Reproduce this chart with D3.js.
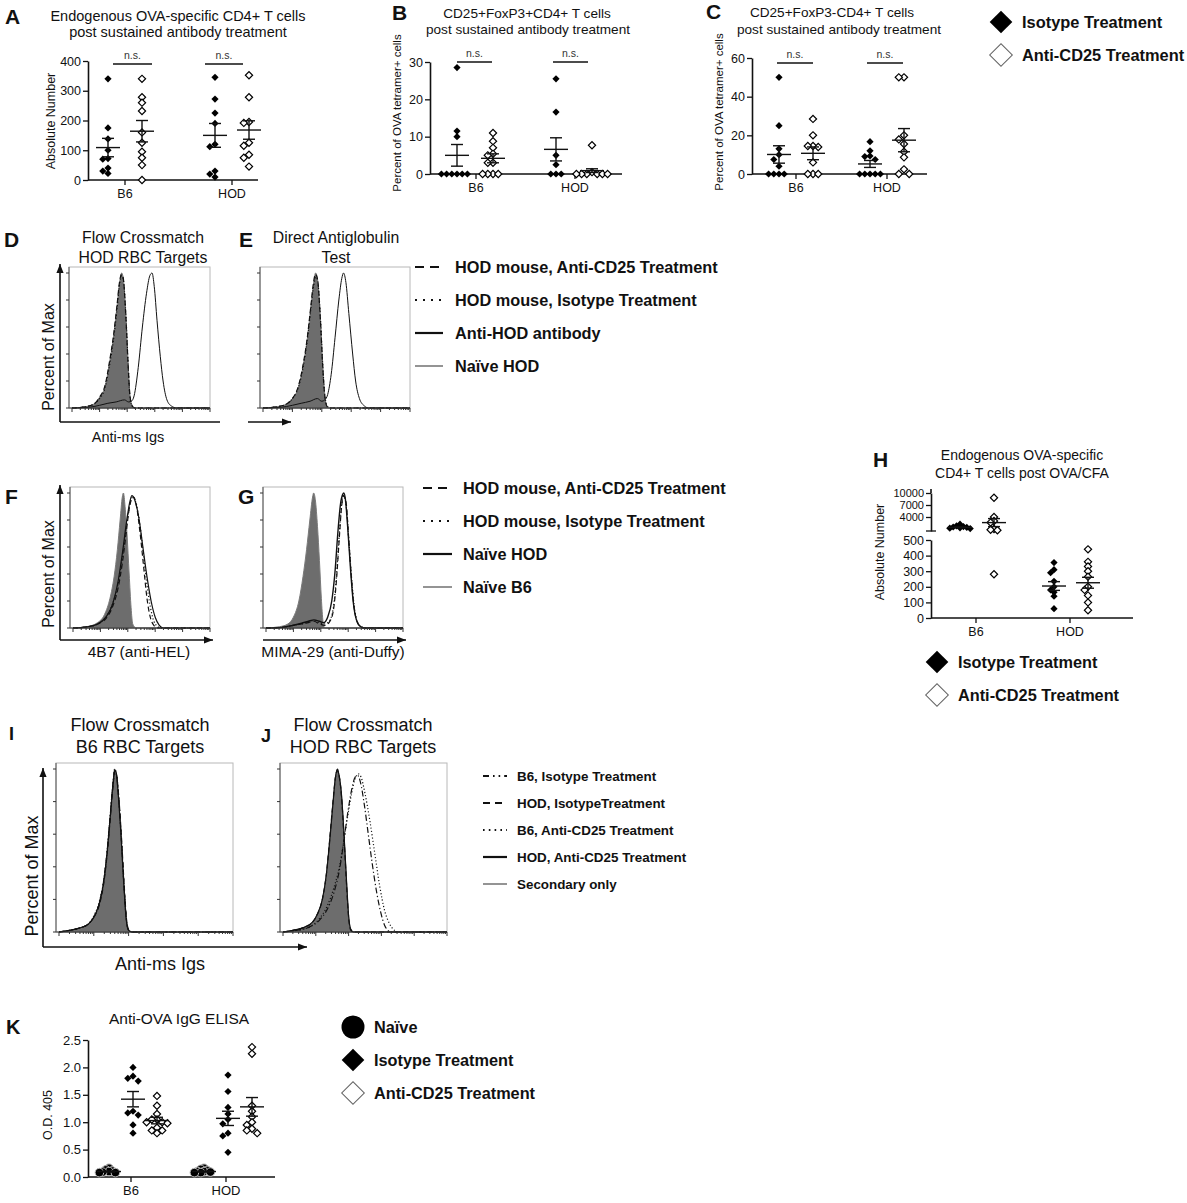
<!DOCTYPE html>
<html>
<head>
<meta charset="utf-8">
<script src="https://cdn.jsdelivr.net/npm/d3@7"></script>
<style>
  body { margin: 0; background: #fff; }
  svg { display: block; }
</style>
</head>
<body>
<script>
// ---------- dot plot data ----------
const groups = ["B6", "HOD"];
const treatments = ["Isotype", "Anti-CD25"];

// A: absolute number
const aIsoB6 = [340, 175, 138, 100, 72, 70, 40, 30, 22];
const aAntiB6 = [340, 278, 260, 232, 160, 125, 95, 75, 50, 0];
const aIsoHOD = [345, 272, 225, 190, 120, 112, 30, 20, 10];
const aAntiHOD = [352, 278, 195, 192, 125, 115, 85, 75, 45];
const aMean = [109, 164, 150, 168];
const aSem = [31, 36, 40, 31];

// B: % OVA tetramer+, CD25+FoxP3+
const bIsoB6 = [28.5, 11.5, 10, 0, 0, 0, 0, 0, 0];
const bAntiB6 = [11, 8.8, 7, 5.4, 5, 3, 3, 0, 0, 0, 0];
const bIsoHOD = [25.5, 16.6, 5, 2.5, 0, 0, 0];
const bAntiHOD = [7.7, 0.5, 0, 0, 0, 0, 0, 0];
const bMean = [5, 4.2, 6.6, 0.9];
const bSem = [2.9, 1.2, 3.1, 0.5];

// C: % OVA tetramer+, CD25+FoxP3-
const cIsoB6 = [50, 25, 13, 10, 7.5, 4, 0, 0, 0, 0];
const cAntiB6 = [28.5, 20, 14.5, 14.5, 14, 6, 0, 0, 0];
const cIsoHOD = [16.7, 12, 9.3, 9, 7.5, 0, 0, 0, 0, 0];
const cAntiHOD = [50, 50, 20, 17.9, 15.5, 11.5, 8.6, 2.4, 0, 0];
const cMean = [10.1, 10.7, 5.2, 17.5];
const cSem = [4.5, 3.3, 1.8, 6];

// H: absolute number post OVA/CFA (broken axis)
const hIsoB6 = [2200, 1800, 1600, 1500, 1400, 1300, 1200, 1100];
const hAntiB6 = [8800, 4000, 3000, 2600, 1000, 800, 700, 280];
const hIsoHOD = [355, 310, 290, 235, 200, 180, 165, 140, 60];
const hAntiHOD = [440, 360, 330, 300, 265, 200, 180, 145, 100, 50];
const hMean = [1400, 2600, 205, 226];
const hSem = [100, 1000, 28, 35];

// K: anti-OVA IgG ELISA
const kNaiveB6 = [0.16, 0.13, 0.11, 0.1, 0.09, 0.08, 0.08];
const kIsoB6 = [2.0, 1.84, 1.8, 1.75, 1.2, 1.17, 1.13, 0.95, 0.8];
const kAntiB6 = [1.48, 1.3, 1.15, 1.05, 1.05, 1.0, 1.0, 0.98, 0.9, 0.85, 0.85, 0.8];
const kNaiveHOD = [0.16, 0.14, 0.12, 0.1, 0.1, 0.09, 0.08, 0.08];
const kIsoHOD = [1.86, 1.56, 1.27, 1.15, 1.05, 0.97, 0.8, 0.75, 0.45];
const kAntiHOD = [2.37, 2.25, 1.3, 1.2, 1.1, 1.0, 0.95, 0.88, 0.85, 0.8];
const kMean = [0.1, 1.42, 1.03, 0.1, 1.07, 1.28];
const kSem = [0.01, 0.14, 0.06, 0.01, 0.13, 0.17];

// ---------- histogram data: [log decade, % of max] ----------
const dNaiveHOD = [[0,0],[0.5,1],[0.8,3],[1.0,8],[1.2,16],[1.38,36],[1.5,52],[1.63,75],[1.72,92],[1.8,100],[1.85,97],[1.95,70],[2.03,35],[2.1,10],[2.15,3],[2.25,0],[5,0]];
const dAntiCD25 = [[0,0],[0.5,1],[0.8,3],[1.0,8],[1.2,17],[1.38,37],[1.5,53],[1.63,76],[1.72,93],[1.79,99],[1.85,97],[1.95,68],[2.03,33],[2.1,9],[2.2,1],[2.3,0],[5,0]];
const dIsotype = [[0,0],[0.5,1],[0.8,3],[1.0,7],[1.2,15],[1.38,34],[1.5,50],[1.63,73],[1.72,91],[1.8,98],[1.86,95],[1.96,66],[2.04,30],[2.1,8],[2.2,1],[2.3,0],[5,0]];
const dAntiHOD = [[0,0],[0.6,0.5],[1.0,2],[1.3,3.5],[1.6,4.5],[1.9,6],[2.05,4.5],[2.15,5],[2.25,9],[2.4,30],[2.55,60],[2.7,85],[2.82,98],[2.9,100],[2.98,90],[3.08,65],[3.2,38],[3.3,20],[3.44,6],[3.6,1.5],[3.8,0],[5,0]];

const eNaiveHOD = [[0,0],[0.5,1],[0.8,3],[1.0,7],[1.2,15],[1.38,33],[1.5,50],[1.62,73],[1.72,92],[1.79,100],[1.85,96],[1.95,68],[2.03,33],[2.1,10],[2.16,2],[2.25,0],[5,0]];
const eAntiCD25 = [[0,0],[0.5,1],[0.8,3],[1.0,7],[1.2,16],[1.38,34],[1.5,51],[1.62,74],[1.72,93],[1.78,99],[1.85,96],[1.95,66],[2.03,31],[2.1,9],[2.18,1],[2.28,0],[5,0]];
const eIsotype = [[0,0],[0.5,1],[0.8,3],[1.0,7],[1.2,15],[1.38,32],[1.5,49],[1.62,72],[1.72,90],[1.8,97],[1.86,94],[1.96,64],[2.04,29],[2.11,8],[2.2,1],[2.3,0],[5,0]];
const eAntiHOD = [[0,0],[0.6,0.5],[1.0,2],[1.3,3.5],[1.6,5],[1.85,7],[2.0,5],[2.1,6],[2.2,10],[2.32,25],[2.45,52],[2.58,80],[2.68,96],[2.74,100],[2.82,93],[2.92,70],[3.05,40],[3.15,20],[3.28,7],[3.45,1.5],[3.6,0],[5,0]];

const fNaiveB6 = [[0,0],[0.5,1],[0.9,4],[1.15,10],[1.35,22],[1.5,38],[1.62,58],[1.72,80],[1.8,97],[1.84,100],[1.9,90],[1.97,70],[2.05,40],[2.12,15],[2.18,3],[2.3,0],[5,0]];
const fNaiveHOD = [[0,0],[0.5,0.8],[0.9,3],[1.2,8],[1.45,18],[1.65,35],[1.8,55],[1.95,78],[2.08,94],[2.15,98],[2.25,95],[2.4,82],[2.55,60],[2.7,38],[2.85,20],[3.0,8],[3.15,2],[3.3,0],[5,0]];
const fAntiCD25 = [[0,0],[0.5,0.8],[0.9,3],[1.2,7],[1.45,16],[1.65,30],[1.8,48],[1.95,72],[2.05,88],[2.15,96],[2.22,97],[2.32,90],[2.45,70],[2.58,45],[2.7,22],[2.82,8],[2.95,2],[3.1,0],[5,0]];
const fIsotype = [[0,0],[0.5,0.8],[0.9,3],[1.2,8],[1.45,18],[1.65,33],[1.8,52],[1.95,75],[2.08,92],[2.18,97],[2.28,94],[2.42,80],[2.55,58],[2.68,35],[2.82,16],[2.95,5],[3.1,1],[3.2,0],[5,0]];

const gNaiveB6 = [[0,0],[0.5,1],[0.8,3],[1.0,8],[1.2,20],[1.35,38],[1.48,58],[1.6,80],[1.7,97],[1.74,100],[1.8,95],[1.88,75],[1.95,50],[2.02,22],[2.08,5],[2.15,0],[5,0]];
const gNaiveHOD = [[0,0],[0.6,0.5],[1.0,2],[1.3,3.5],[1.55,5],[1.75,6],[1.95,5],[2.1,4],[2.25,8],[2.4,20],[2.52,42],[2.62,70],[2.72,92],[2.8,99],[2.84,100],[2.9,95],[2.98,75],[3.08,45],[3.18,20],[3.3,6],[3.45,1],[3.6,0],[5,0]];
const gAntiCD25 = [[0,0],[0.6,0.5],[1.0,2],[1.3,3],[1.55,4],[1.75,5],[1.95,3],[2.15,2],[2.3,4],[2.45,12],[2.57,35],[2.67,65],[2.76,90],[2.83,98],[2.87,97],[2.93,92],[3.0,72],[3.1,42],[3.2,18],[3.32,5],[3.45,1],[3.6,0],[5,0]];
const gIsotype = [[0,0],[0.6,0.5],[1.0,2],[1.3,3],[1.55,4.5],[1.75,5.5],[1.95,4],[2.15,3],[2.3,5],[2.45,14],[2.57,38],[2.67,68],[2.76,91],[2.83,98],[2.88,96],[2.94,88],[3.02,66],[3.12,38],[3.22,16],[3.34,4],[3.48,1],[3.6,0],[5,0]];

const iSecondary = [[0,0],[0.3,1],[0.6,2.5],[0.85,5],[1.0,9],[1.15,17],[1.28,30],[1.38,48],[1.47,70],[1.55,90],[1.6,100],[1.64,98],[1.7,85],[1.78,60],[1.86,30],[1.93,8],[2.0,1],[2.1,0],[5,0]];
const iB6Iso = [[0,0],[0.3,1],[0.6,2.5],[0.85,5],[1.0,9],[1.15,17],[1.28,31],[1.38,49],[1.47,71],[1.55,91],[1.6,99],[1.65,97],[1.71,84],[1.79,58],[1.87,28],[1.94,7],[2.0,1],[2.1,0],[5,0]];
const iHODIso = [[0,0],[0.3,1],[0.6,2.5],[0.85,5],[1.0,9],[1.15,16],[1.28,29],[1.38,47],[1.47,69],[1.55,89],[1.61,99],[1.65,97],[1.71,85],[1.79,60],[1.87,30],[1.94,8],[2.01,1],[2.1,0],[5,0]];
const iB6Anti = [[0,0],[0.3,1],[0.6,2.5],[0.85,5],[1.0,10],[1.15,18],[1.28,31],[1.38,49],[1.47,71],[1.55,91],[1.6,100],[1.64,98],[1.7,86],[1.78,61],[1.86,31],[1.93,9],[2.0,1],[2.1,0],[5,0]];
const iHODAnti = [[0,0],[0.3,1],[0.6,2.5],[0.85,5],[1.0,9],[1.15,17],[1.28,30],[1.38,48],[1.47,70],[1.55,90],[1.6,99],[1.64,98],[1.7,85],[1.78,60],[1.86,30],[1.93,8],[2.0,1],[2.1,0],[5,0]];

const jSecondary = [[0,0],[0.3,1],[0.6,2.5],[0.9,6],[1.05,11],[1.2,20],[1.32,35],[1.42,55],[1.52,78],[1.6,95],[1.66,100],[1.7,97],[1.78,85],[1.86,60],[1.94,30],[2.0,10],[2.06,2],[2.15,0],[5,0]];
const jB6Iso = [[0,0],[0.4,1],[0.8,3],[1.1,7],[1.35,14],[1.55,24],[1.72,38],[1.85,55],[1.98,74],[2.1,88],[2.2,95],[2.28,96],[2.36,92],[2.48,78],[2.6,60],[2.72,42],[2.85,25],[2.98,12],[3.1,4],[3.2,1],[3.3,0],[5,0]];
const jHODIso = [[0,0],[0.3,1],[0.6,2.5],[0.9,6],[1.05,11],[1.2,20],[1.32,35],[1.42,56],[1.52,79],[1.6,95],[1.65,99],[1.7,97],[1.78,84],[1.86,58],[1.94,28],[2.0,9],[2.07,1],[2.15,0],[5,0]];
const jB6Anti = [[0,0],[0.4,1],[0.8,3],[1.1,8],[1.35,16],[1.55,27],[1.72,40],[1.85,55],[1.98,72],[2.1,86],[2.2,94],[2.3,97],[2.38,95],[2.5,85],[2.65,68],[2.8,48],[2.95,28],[3.1,13],[3.25,5],[3.4,1],[3.5,0],[5,0]];
const jHODAnti = [[0,0],[0.3,1],[0.6,2.5],[0.9,6],[1.05,11],[1.2,20],[1.32,35],[1.42,55],[1.52,78],[1.6,95],[1.66,100],[1.7,97],[1.78,85],[1.86,60],[1.94,30],[2.0,10],[2.06,2],[2.15,0],[5,0]];

// ---------- drawing ----------
const svg = d3.select("body").append("svg")
  .attr("width", 1187).attr("height", 1203)
  .attr("font-family", "'Liberation Sans', Arial, Helvetica, sans-serif");

const ink = "#111";

function text(x, y, s, size, opts = {}) {
  const t = svg.append("text")
    .attr("x", x).attr("y", y)
    .attr("font-size", size)
    .attr("text-anchor", opts.anchor || "middle")
    .attr("fill", opts.fill || ink)
    .text(s);
  if (opts.bold) t.attr("font-weight", "bold");
  if (opts.rotate) t.attr("transform", `rotate(-90,${x},${y})`);
  return t;
}

const diamondPath = d3.symbol(d3.symbolSquare, 26)();
const circlePath = d3.symbol(d3.symbolCircle, 58)();

// spread points that would overlap sideways, GraphPad style
function dodge(ys, gap) {
  const placed = [];
  return ys.map(y => {
    for (const k of [0, -1, 1, -2, 2, -3, 3, -4, 4, -5, 5]) {
      const x = k * gap;
      if (placed.every(p => Math.hypot(p[0] - x, p[1] - y) >= gap * 0.98)) {
        placed.push([x, y]);
        return x;
      }
    }
    return 0;
  });
}

function styleAxis(sel, size = 12.5) {
  sel.select(".domain").attr("stroke", ink).attr("stroke-width", 1.6);
  sel.selectAll(".tick line").attr("stroke", ink).attr("stroke-width", 1.3);
  sel.selectAll(".tick text").attr("font-size", size).attr("fill", ink)
    .attr("font-family", "'Liberation Sans', Arial, sans-serif");
}

function dotPanel(o) {
  const g = svg.append("g");
  const gx = d3.scalePoint().domain(groups).range(o.centers);
  const sx = d3.scalePoint().domain(o.subs).range(o.offsets);
  const fs = o.fontSize || 12.5;

  if (o.ticks) {
    const ax = d3.axisLeft(o.y).tickValues(o.ticks).tickSize(5).tickSizeOuter(0).tickPadding(2);
    if (o.format) ax.tickFormat(d3.format(o.format));
    g.append("g").attr("transform", `translate(${o.x0},0)`).call(ax).call(styleAxis, fs);
  }

  // x axis
  g.append("line").attr("x1", o.x0).attr("x2", o.x1)
    .attr("y1", o.base).attr("y2", o.base)
    .attr("stroke", ink).attr("stroke-width", 1.6);
  groups.forEach(k => {
    g.append("line").attr("x1", gx(k)).attr("x2", gx(k))
      .attr("y1", o.base).attr("y2", o.base + 5)
      .attr("stroke", ink).attr("stroke-width", 1.3);
    g.append("text").attr("x", gx(k)).attr("y", o.base + 18)
      .attr("text-anchor", "middle").attr("font-size", fs).attr("fill", ink).text(k);
  });

  o.series.forEach(s => {
    const cx = gx(s.group) + sx(s.sub);
    const ys = s.values.map(v => o.y(v));
    const dxs = dodge(ys, s.shape === "circle" ? 3.2 : (o.gap || 5.2));
    g.selectAll(null).data(s.values).join("path")
      .attr("d", s.shape === "circle" ? circlePath : diamondPath)
      .attr("transform", (d, i) => `translate(${cx + dxs[i]},${ys[i]})` + (s.shape === "circle" ? "" : " rotate(45)"))
      .attr("fill", s.open ? "#fff" : "#000")
      .attr("stroke", s.shape === "circle" ? "#bbb" : "#000")
      .attr("stroke-width", s.open ? 1.2 : (s.shape === "circle" ? 1 : 0));

    const m = o.y(s.mean), hi = o.y(s.mean + s.sem), lo = o.y(s.mean - s.sem);
    const line = (x1, x2, y1, y2) => g.append("line")
      .attr("x1", x1).attr("x2", x2).attr("y1", y1).attr("y2", y2)
      .attr("stroke", ink).attr("stroke-width", 1.4);
    line(cx - 12, cx + 12, m, m);
    line(cx, cx, hi, lo);
    line(cx - 6, cx + 6, hi, hi);
    line(cx - 6, cx + 6, lo, lo);
  });

  (o.ns || []).forEach(b => {
    g.append("line").attr("x1", b[0]).attr("x2", b[1]).attr("y1", b[2]).attr("y2", b[2])
      .attr("stroke", ink).attr("stroke-width", 1.6);
    g.append("text").attr("x", (b[0] + b[1]) / 2).attr("y", b[2] - 5)
      .attr("text-anchor", "middle").attr("font-size", 10.5).attr("fill", "#333").text("n.s.");
  });
}

function seriesOf(subs, lists, means, sems, shapes, opens) {
  const out = [];
  groups.forEach((grp, gi) => {
    subs.forEach((sub, si) => {
      const idx = gi * subs.length + si;
      out.push({ group: grp, sub, values: lists[idx], mean: means[idx], sem: sems[idx],
        shape: shapes[si], open: opens[si] });
    });
  });
  return out;
}

// ---- A ----
text(5, 24, "A", 21, { anchor: "start", bold: true });
text(178, 21, "Endogenous OVA-specific CD4+ T cells", 14.5);
text(178, 37, "post sustained antibody treatment", 14.5);
text(55, 121, "Absolute Number", 12.5, { rotate: true });
dotPanel({
  x0: 88, x1: 258, base: 180,
  y: d3.scaleLinear([0, 400], [180, 61]), ticks: [0, 100, 200, 300, 400],
  centers: [125, 232], subs: treatments, offsets: [-17, 17],
  series: seriesOf(treatments, [aIsoB6, aAntiB6, aIsoHOD, aAntiHOD], aMean, aSem,
    ["diamond", "diamond"], [false, true]),
  ns: [[113, 152, 64], [205, 243, 64]]
});

// ---- B ----
text(392, 20, "B", 21, { anchor: "start", bold: true });
text(527, 18, "CD25+FoxP3+CD4+ T cells", 13.6);
text(528, 34, "post sustained antibody treatment", 13.6);
text(401, 113, "Percent of OVA tetramer+ cells", 11.5, { rotate: true });
dotPanel({
  x0: 430, x1: 622, base: 174,
  y: d3.scaleLinear([0, 30], [174, 62]), ticks: [0, 10, 20, 30],
  centers: [476, 575], subs: treatments, offsets: [-19, 17],
  series: seriesOf(treatments, [bIsoB6, bAntiB6, bIsoHOD, bAntiHOD], bMean, bSem,
    ["diamond", "diamond"], [false, true]),
  ns: [[457, 492, 62], [553, 588, 62]]
});

// ---- C ----
text(706, 19, "C", 21, { anchor: "start", bold: true });
text(832, 17, "CD25+FoxP3-CD4+ T cells", 13.6);
text(839, 34, "post sustained antibody treatment", 13.6);
text(723, 112, "Percent of OVA tetramer+ cells", 11.5, { rotate: true });
dotPanel({
  x0: 752, x1: 927, base: 174,
  y: d3.scaleLinear([0, 60], [174, 58]), ticks: [0, 20, 40, 60],
  centers: [796, 887], subs: treatments, offsets: [-17, 17],
  series: seriesOf(treatments, [cIsoB6, cAntiB6, cIsoHOD, cAntiHOD], cMean, cSem,
    ["diamond", "diamond"], [false, true]),
  ns: [[777, 813, 63], [867, 903, 63]]
});

// legend helper for dot plots
function symLegend(x, y, items, size) {
  items.forEach((it, i) => {
    const cy = y + i * 33;
    const p = it.shape === "circle"
      ? d3.symbol(d3.symbolCircle, Math.PI * 11.5 * 11.5)()
      : d3.symbol(d3.symbolSquare, 16 * 16)();
    svg.append("path").attr("d", p)
      .attr("transform", `translate(${x},${cy})` + (it.shape === "circle" ? "" : " rotate(45)"))
      .attr("fill", it.open ? "#fff" : "#000").attr("stroke", it.open ? "#666" : "#000")
      .attr("stroke-width", it.open ? 1 : 0);
    text(x + 21, cy + 6, it.label, size, { anchor: "start", bold: true });
  });
}
const treatLegend = [
  { label: "Isotype Treatment", shape: "diamond", open: false },
  { label: "Anti-CD25 Treatment", shape: "diamond", open: true }
];
symLegend(1001, 22, treatLegend, 16.4);

// ---------- histograms ----------
const dash = { solid: null, dashed: "5,3", dotted: "1.1,2.2", dashdot: "6,2.5,1.2,2.5" };

function histPanel(o) {
  const [bx, by, bw, bh] = o.box;
  const x = d3.scaleLinear([0, 5], [bx + 3, bx + bw]);
  const y = d3.scaleLinear([0, 100], [by + bh, by + 6]);
  const g = svg.append("g");
  g.append("rect").attr("x", bx).attr("y", by).attr("width", bw).attr("height", bh)
    .attr("fill", "#fff").attr("stroke", "#b8b8b8").attr("stroke-width", 1);

  const area = d3.area().x(d => x(d[0])).y0(y(0)).y1(d => y(d[1])).curve(d3.curveMonotoneX);
  const line = d3.line().x(d => x(d[0])).y(d => y(d[1])).curve(d3.curveMonotoneX);
  g.append("path").datum(o.fill).attr("d", area)
    .attr("fill", "#6d6d6d").attr("stroke", "#7a7a7a").attr("stroke-width", 1);
  o.curves.forEach(c => {
    g.append("path").datum(c.pts).attr("d", line)
      .attr("fill", "none").attr("stroke", ink)
      .attr("stroke-width", c.w || 1.2)
      .attr("stroke-dasharray", dash[c.style]);
  });

  // axis lines with log-decade ticks
  g.append("line").attr("x1", bx).attr("x2", bx + bw).attr("y1", by + bh).attr("y2", by + bh)
    .attr("stroke", "#333").attr("stroke-width", 1.2);
  g.append("line").attr("x1", bx).attr("x2", bx).attr("y1", by).attr("y2", by + bh)
    .attr("stroke", "#555").attr("stroke-width", 1);
  const xt = [];
  d3.range(0, 5).forEach(dec => d3.range(1, 10).forEach(k => xt.push([dec + Math.log10(k), k === 1])));
  xt.push([5, true]);
  g.selectAll(null).data(xt).join("line")
    .attr("x1", d => x(d[0])).attr("x2", d => x(d[0]))
    .attr("y1", by + bh).attr("y2", d => by + bh + (d[1] ? 4 : 2))
    .attr("stroke", "#333").attr("stroke-width", 1);
  g.selectAll(null).data(d3.range(0, 101, 20)).join("line")
    .attr("x1", bx - 3).attr("x2", bx)
    .attr("y1", d => y(d)).attr("y2", d => y(d))
    .attr("stroke", "#333").attr("stroke-width", 1);
}

function arrow(x1, y1, x2, y2, head) {
  svg.append("line").attr("x1", x1).attr("y1", y1).attr("x2", x2).attr("y2", y2)
    .attr("stroke", ink).attr("stroke-width", 1.6);
  if (!head) return;
  const a = Math.atan2(y2 - y1, x2 - x1), L = 9, w = 3.6;
  const p = [
    [x2, y2],
    [x2 - L * Math.cos(a) + w * Math.sin(a), y2 - L * Math.sin(a) - w * Math.cos(a)],
    [x2 - L * Math.cos(a) - w * Math.sin(a), y2 - L * Math.sin(a) + w * Math.cos(a)]
  ];
  svg.append("path").attr("d", d3.line()(p) + "Z").attr("fill", ink);
}

function lineLegend(x1, x2, tx, rows, size) {
  rows.forEach(r => {
    svg.append("line").attr("x1", x1).attr("x2", x2).attr("y1", r.y).attr("y2", r.y)
      .attr("stroke", r.gray ? "#888" : ink)
      .attr("stroke-width", r.gray ? 1.8 : 2.2)
      .attr("stroke-dasharray", r.dash);
    text(tx, r.y + size * 0.36, r.label, size, { anchor: "start", bold: true });
  });
}

// ---- D / E ----
text(4, 247, "D", 21, { anchor: "start", bold: true });
text(143, 243, "Flow Crossmatch", 15.8);
text(143, 263, "HOD RBC Targets", 15.8);
text(239, 247, "E", 21, { anchor: "start", bold: true });
text(336, 243, "Direct Antiglobulin", 15.8);
text(336, 263, "Test", 15.8);
text(54, 357, "Percent of Max", 16, { rotate: true });
text(128, 442, "Anti-ms Igs", 14.5);
arrow(60, 422, 60, 264, true);
arrow(60, 422, 220, 422, false);
arrow(248, 422, 291, 422, true);

histPanel({ box: [69, 267, 141, 141], fill: dNaiveHOD, curves: [
  { pts: dIsotype, style: "dotted" }, { pts: dAntiCD25, style: "dashed" },
  { pts: dAntiHOD, style: "solid", w: 1 }] });
histPanel({ box: [260, 267, 150, 141], fill: eNaiveHOD, curves: [
  { pts: eIsotype, style: "dotted" }, { pts: eAntiCD25, style: "dashed" },
  { pts: eAntiHOD, style: "solid", w: 1 }] });

lineLegend(415, 443, 455, [
  { y: 267, dash: "9,6", label: "HOD mouse, Anti-CD25 Treatment" },
  { y: 300, dash: "2,6", label: "HOD mouse, Isotype Treatment" },
  { y: 333, dash: null, label: "Anti-HOD antibody" },
  { y: 366, dash: null, gray: true, label: "Naïve HOD" }
], 16.3);

// ---- F / G ----
text(5, 504, "F", 21, { anchor: "start", bold: true });
text(238, 504, "G", 21, { anchor: "start", bold: true });
text(54, 574, "Percent of Max", 16, { rotate: true });
text(139, 657, "4B7 (anti-HEL)", 15.5);
text(333, 657, "MIMA-29 (anti-Duffy)", 15.5);
arrow(60, 640, 60, 485, true);
arrow(60, 640, 213, 640, true);
arrow(263, 640, 406, 640, true);

histPanel({ box: [70, 487, 140, 141], fill: fNaiveB6, curves: [
  { pts: fIsotype, style: "dotted" }, { pts: fAntiCD25, style: "dashed" },
  { pts: fNaiveHOD, style: "solid" }] });
histPanel({ box: [263, 487, 140, 141], fill: gNaiveB6, curves: [
  { pts: gIsotype, style: "dotted" }, { pts: gAntiCD25, style: "dashed" },
  { pts: gNaiveHOD, style: "solid", w: 1.4 }] });

lineLegend(423, 452, 463, [
  { y: 488, dash: "9,6", label: "HOD mouse, Anti-CD25 Treatment" },
  { y: 521, dash: "2,6", label: "HOD mouse, Isotype Treatment" },
  { y: 554, dash: null, label: "Naïve HOD" },
  { y: 587, dash: null, gray: true, label: "Naïve B6" }
], 16.3);

// ---- H ----
text(873, 467, "H", 21, { anchor: "start", bold: true });
text(1022, 460, "Endogenous OVA-specific", 14);
text(1022, 478, "CD4+ T cells post OVA/CFA", 14);
text(884, 552, "Absolute Number", 12.5, { rotate: true });
const hLow = d3.scaleLinear([0, 500], [618, 540]);
const hHigh = d3.scaleLinear([500, 10000], [531, 493]);
const hY = v => (v <= 500 ? hLow(v) : hHigh(v));
svg.append("g").attr("transform", "translate(931,0)")
  .call(d3.axisLeft(hLow).tickValues([0, 100, 200, 300, 400, 500]).tickSize(5).tickSizeOuter(0).tickPadding(2))
  .call(styleAxis, 12.5);
svg.append("g").attr("transform", "translate(931,0)")
  .call(d3.axisLeft(hHigh).tickValues([4000, 7000, 10000]).tickFormat(d3.format("d"))
    .tickSize(5).tickSizeOuter(0).tickPadding(2))
  .call(styleAxis, 11);
svg.append("line").attr("x1", 931).attr("x2", 931).attr("y1", 493).attr("y2", 489)
  .attr("stroke", ink).attr("stroke-width", 1.6);
svg.append("line").attr("x1", 926).attr("x2", 936).attr("y1", 531).attr("y2", 531)
  .attr("stroke", ink).attr("stroke-width", 1.3);
dotPanel({
  x0: 931, x1: 1133, base: 618, y: hY, gap: 3.4,
  centers: [976, 1070], subs: treatments, offsets: [-16, 18],
  series: seriesOf(treatments, [hIsoB6, hAntiB6, hIsoHOD, hAntiHOD], hMean, hSem,
    ["diamond", "diamond"], [false, true])
});
symLegend(937, 662, treatLegend, 16.3);

// ---- I / J ----
text(9, 740, "I", 18, { anchor: "start", bold: true });
text(140, 731, "Flow Crossmatch", 18);
text(140, 753, "B6 RBC Targets", 18);
text(261, 742, "J", 18, { anchor: "start", bold: true });
text(363, 731, "Flow Crossmatch", 18);
text(363, 753, "HOD RBC Targets", 18);
text(38, 876, "Percent of Max", 18, { rotate: true });
text(160, 970, "Anti-ms Igs", 18);
arrow(43, 947, 43, 768, true);
arrow(43, 947, 307, 947, true);

histPanel({ box: [56, 763, 177, 169], fill: iSecondary, curves: [
  { pts: iB6Iso, style: "dashdot" }, { pts: iHODIso, style: "dashed" },
  { pts: iB6Anti, style: "dotted" }, { pts: iHODAnti, style: "solid" }] });
histPanel({ box: [280, 763, 167, 169], fill: jSecondary, curves: [
  { pts: jHODIso, style: "dashed" }, { pts: jHODAnti, style: "solid" },
  { pts: jB6Iso, style: "dashdot" }, { pts: jB6Anti, style: "dotted" }] });

lineLegend(483, 507, 517, [
  { y: 776, dash: "6,4,1.6,4,1.6,4", label: "B6, Isotype Treatment" },
  { y: 803, dash: "7,5", label: "HOD, IsotypeTreatment" },
  { y: 830, dash: "1.6,4.2", label: "B6, Anti-CD25 Treatment" },
  { y: 857, dash: null, label: "HOD, Anti-CD25 Treatment" },
  { y: 884, dash: null, gray: true, label: "Secondary only" }
], 13.4);

// ---- K ----
const kSubs = ["Naïve", "Isotype", "Anti-CD25"];
text(6, 1034, "K", 20, { anchor: "start", bold: true });
text(179, 1024, "Anti-OVA IgG ELISA", 15.5);
text(52, 1115, "O.D. 405", 12.5, { rotate: true });
dotPanel({
  x0: 88, x1: 275, base: 1177, fontSize: 13,
  y: d3.scaleLinear([0, 2.5], [1177, 1040]), ticks: [0, 0.5, 1, 1.5, 2, 2.5], format: ".1f",
  centers: [131, 226], subs: kSubs, offsets: [-22, 26],
  series: seriesOf(kSubs, [kNaiveB6, kIsoB6, kAntiB6, kNaiveHOD, kIsoHOD, kAntiHOD], kMean, kSem,
    ["circle", "diamond", "diamond"], [false, false, true])
});
symLegend(353, 1027, [
  { label: "Naïve", shape: "circle", open: false },
  { label: "Isotype Treatment", shape: "diamond", open: false },
  { label: "Anti-CD25 Treatment", shape: "diamond", open: true }
], 16.3);
</script>
</body>
</html>
